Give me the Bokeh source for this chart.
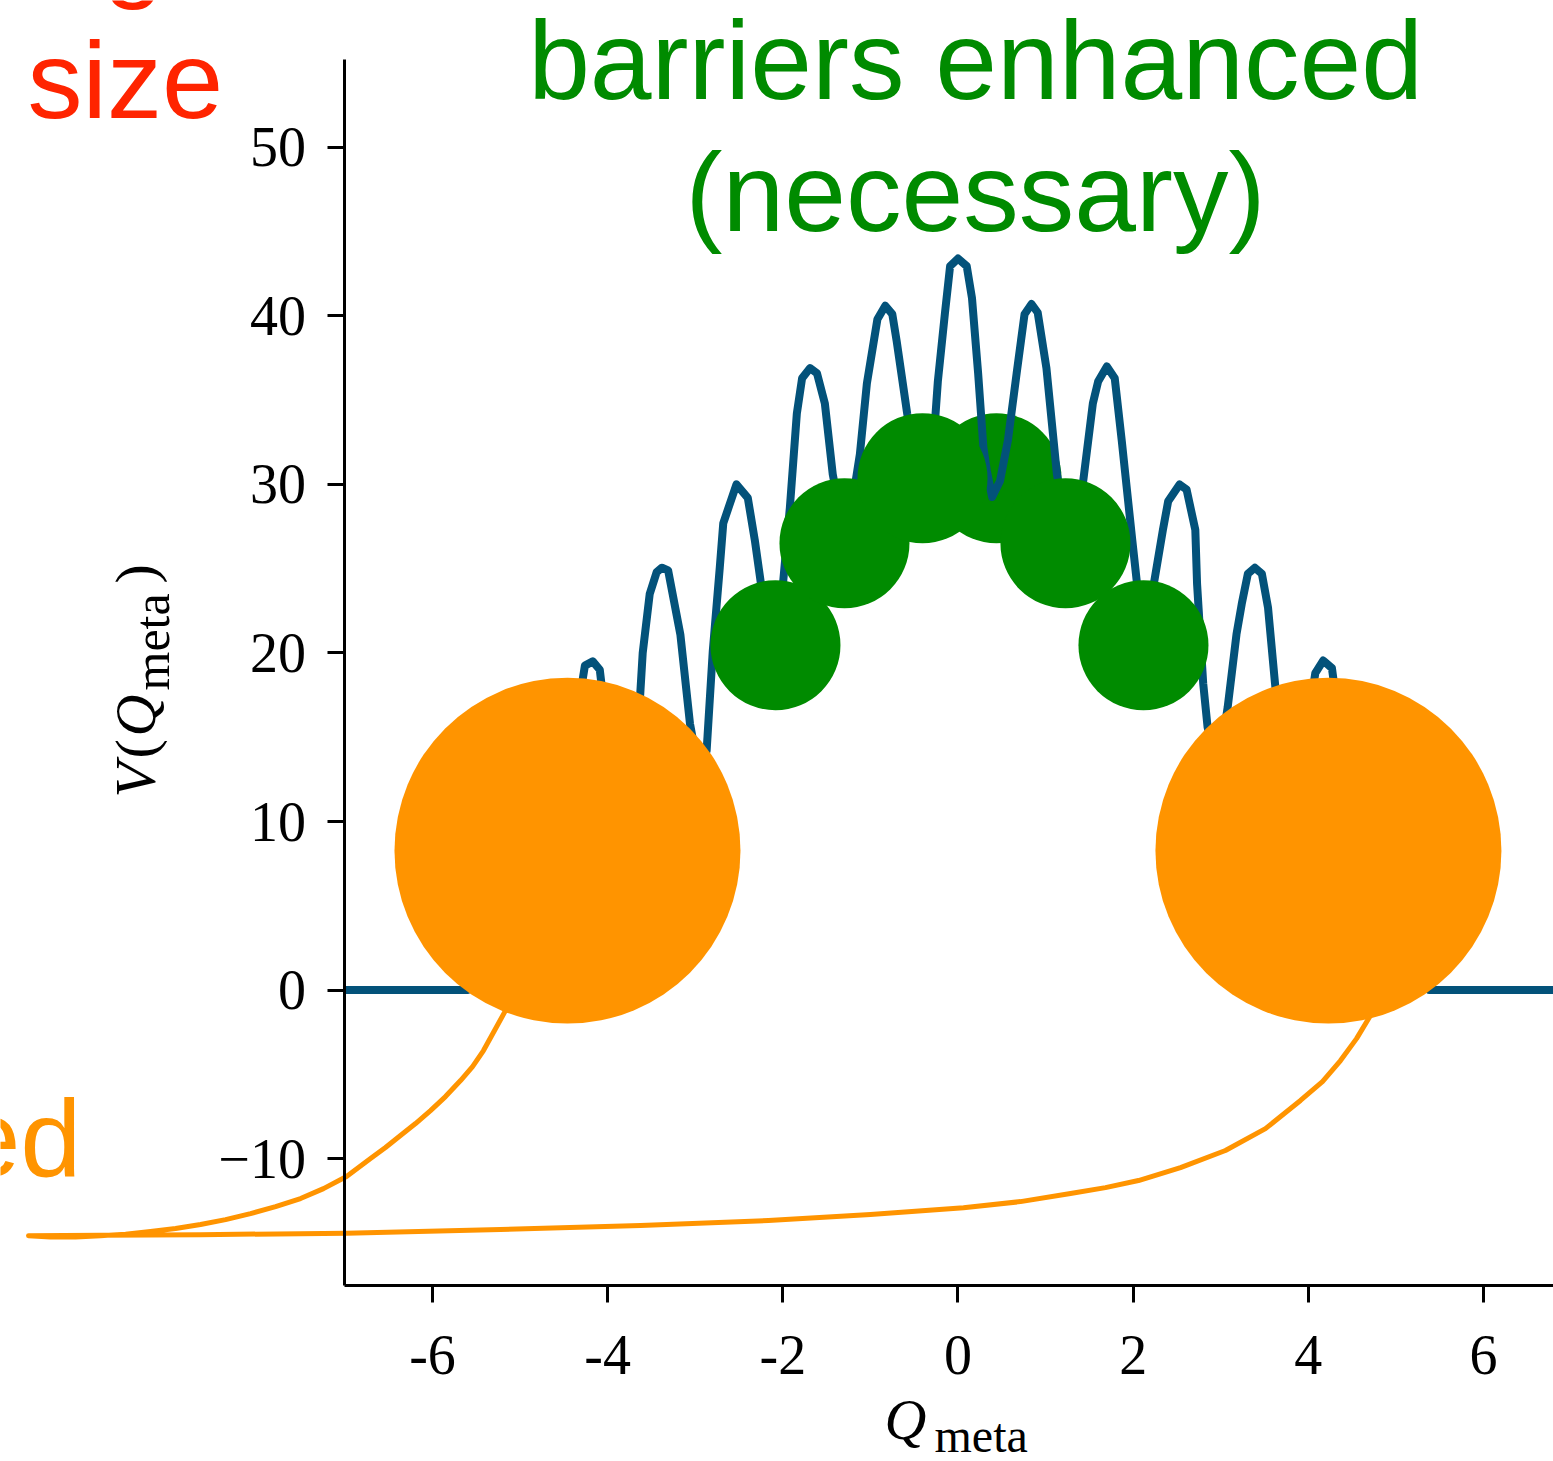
from bokeh.plotting import figure
from bokeh.models import Range1d, FixedTicker, Label
from bokeh.embed import file_html
from bokeh.resources import INLINE

# Metastable potential V(Q_meta), sampled along Q_meta
q_meta = [-7.0, -5.6, -5.3, -5.0, -4.75, -4.6, -4.45, -4.33, -4.26, -4.17, -4.09,
          -4.0, -3.9, -3.78, -3.7, -3.63, -3.60, -3.52, -3.44, -3.38, -3.31, -3.17,
          -3.06, -2.96, -2.87, -2.80, -2.72, -2.68, -2.53, -2.40, -2.32, -2.22, -2.10,
          -2.0, -1.92, -1.84, -1.78, -1.69, -1.61, -1.52, -1.43, -1.28, -1.12, -1.04,
          -0.92, -0.83, -0.75, -0.70, -0.58, -0.42, -0.26, -0.23, -0.15, -0.09, 0.0,
          0.10, 0.16, 0.23, 0.29, 0.33, 0.39, 0.48, 0.57, 0.67, 0.76, 0.84, 0.91,
          1.01, 1.13, 1.27, 1.43, 1.54, 1.60, 1.70, 1.79, 1.87, 1.99, 2.12, 2.34,
          2.40, 2.53, 2.61, 2.71, 2.73, 2.80, 2.85, 2.97, 3.08, 3.18, 3.24, 3.31,
          3.39, 3.47, 3.54, 3.62, 3.72, 3.80, 3.90, 4.0, 4.08, 4.17, 4.27, 4.35,
          4.45, 4.6, 4.8, 5.0, 5.2, 5.38, 6.8]
v_meta = [0.0, 0.0, 0.5, 3.0, 6.5, 8.0, 12.0, 17.0, 19.25, 19.5, 19.0,
          15.0, 11.5, 10.5, 13.0, 17.4, 20.0, 23.5, 24.8, 25.06, 24.9, 21.1,
          15.8, 13.0, 14.2, 20.1, 25.06, 27.7, 30.0, 29.2, 26.7, 23.0, 20.5,
          24.0, 28.6, 34.2, 36.3, 36.9, 36.6, 34.8, 30.6, 26.5, 31.8, 36.0,
          39.8, 40.6, 40.1, 38.5, 34.2, 29.3, 33.9, 36.1, 40.1, 42.95, 43.4,
          42.95, 41.05, 36.6, 32.2, 30.8, 29.25, 30.2, 32.6, 36.6, 40.1, 40.7, 40.2,
          36.9, 30.6, 26.5, 30.2, 34.8, 36.1, 37.0, 36.3, 32.6, 26.7, 20.5, 27.3,
          29.0, 30.0, 29.7, 27.3, 24.1, 18.2, 15.6, 13.0, 16.8, 21.1, 22.9, 24.7,
          25.06, 24.7, 22.7, 18.2, 13.0, 11.0, 12.5, 16.0, 18.8, 19.55, 19.1, 16.0,
          12.0, 8.0, 5.5, 3.0, 1.0, 0.0, 0.0]

# Stabilised branch: from the left outer well out to the far left, then back
# along the bottom to the right outer well
branch_q = [-5.167, -5.292, -5.418, -5.543, -5.680, -5.852, -6.023, -6.194, -6.366,
            -6.537, -6.708, -6.845, -6.982, -7.245, -7.507, -7.792, -8.078, -8.363,
            -8.649, -8.934, -9.220, -9.505, -9.791, -10.076, -10.362, -10.613,
            -9.791, -8.649, -6.982, -5.224, -3.625, -2.164, -0.999, 0.063, 0.714,
            1.285, 1.684, 2.061, 2.541, 3.054, 3.511, 3.911, 4.162, 4.368, 4.551,
            4.710, 4.882]
branch_v = [-1.22, -2.40, -3.59, -4.54, -5.37, -6.32, -7.15, -7.92, -8.63,
            -9.34, -10.00, -10.53, -11.06, -11.78, -12.37, -12.85, -13.26, -13.62,
            -13.91, -14.15, -14.33, -14.48, -14.57, -14.65, -14.65, -14.57,
            -14.54, -14.51, -14.43, -14.21, -13.97, -13.67, -13.32, -12.91, -12.55,
            -12.07, -11.72, -11.30, -10.53, -9.52, -8.22, -6.55, -5.43, -4.18, -2.88,
            -1.51, -0.03]

# Inner wells (barriers enhanced) and outer wells
well_q = [-2.084, -1.296, -0.405, 0.440, 1.227, 2.118]
well_v = [20.46, 26.51, 30.37, 30.37, 26.51, 20.46]
outer_q = [-4.459, 4.23]
outer_v = [8.27, 8.27]

x_ticks = [-6, -4, -2, 0, 2, 4, 6]
y_ticks = [-10, 0, 10, 20, 30, 40, 50]

BLUE = "#03527a"
GREEN = "#008b00"
ORANGE = "#ff9400"
RED = "#ff2400"

W, H = 1553, 1461

p = figure(width=W, height=H,
           x_range=Range1d(-10.933, 6.800), y_range=Range1d(-27.97, 58.71),
           output_backend="svg", toolbar_location=None,
           min_border=0, min_border_left=0, min_border_right=0,
           min_border_top=0, min_border_bottom=0,
           background_fill_color="white", border_fill_color="white")
p.outline_line_color = None
p.grid.visible = False

# axes pinned to the data corner (-7, -17.5)
p.xaxis.fixed_location = -17.5
p.xaxis.bounds = (-7, 6.8)
p.yaxis.fixed_location = -7
p.yaxis.bounds = (-17.5, 55.2)
p.xaxis.ticker = FixedTicker(ticks=x_ticks)
p.yaxis.ticker = FixedTicker(ticks=y_ticks)
p.xaxis.major_label_overrides = {t: str(t) for t in x_ticks}
p.yaxis.major_label_overrides = {-10: "\u221210"}
for ax in (p.xaxis[0], p.yaxis[0]):
    ax.axis_line_width = 3
    ax.axis_line_color = "black"
    ax.major_tick_line_width = 3
    ax.major_tick_line_color = "black"
    ax.major_tick_out = 17
    ax.major_tick_in = 0
    ax.minor_tick_line_color = None
    ax.major_label_text_font = "Liberation Serif"
    ax.major_label_text_font_size = "56px"
    ax.major_label_text_color = "black"
p.xaxis.major_label_standoff = 34
p.yaxis.major_label_standoff = 22

# the well at the right of the centre sits beneath the curve
p.scatter(well_q[3:4], well_v[3:4], size=130, fill_color=GREEN, line_color=None)
p.line(branch_q, branch_v, line_width=5, line_color=ORANGE, line_join="round")
p.line(q_meta, v_meta, line_width=8, line_color=BLUE, line_join="round")
p.scatter(well_q[:3] + well_q[4:], well_v[:3] + well_v[4:], size=130,
          fill_color=GREEN, line_color=None)
p.scatter(outer_q, outer_v, size=346, fill_color=ORANGE, line_color=None)


def label(text, x, y, size, color, font="Liberation Sans", style="normal",
          align="left", angle=0.0):
    # x, y in pixels from the top-left corner of the canvas
    p.add_layout(Label(x=x, y=H - y, x_units="screen", y_units="screen",
                       text=text, text_font=font, text_font_size=size,
                       text_font_style=style, text_color=color,
                       text_align=align, text_baseline="alphabetic",
                       angle=angle, angle_units="rad"))


label("barriers enhanced", 975, 60, "111px", GREEN, align="center")
label("(necessary)", 975, 192, "111px", GREEN, align="center")
label("g", 103, -50, "108px", RED)
label("size", 27, 79, "110px", RED)
label("ed", 81, 1137, "110px", ORANGE, align="right")

# axis titles
label("Q", 884, 1419, "58px", "black", font="Liberation Serif", style="italic")
label("meta", 934, 1435, "48px", "black", font="Liberation Serif")

rot = 1.5707963267948966
label("V", 135, 797, "58px", "black", font="Liberation Serif", style="italic", angle=rot)
label("(", 135, 758, "58px", "black", font="Liberation Serif", angle=rot)
label("Q", 135, 736, "58px", "black", font="Liberation Serif", style="italic", angle=rot)
label("meta", 151, 690, "50px", "black", font="Liberation Serif", angle=rot)
label(")", 135, 583, "58px", "black", font="Liberation Serif", angle=rot)

open("out.html", "w").write(file_html(p, INLINE))
